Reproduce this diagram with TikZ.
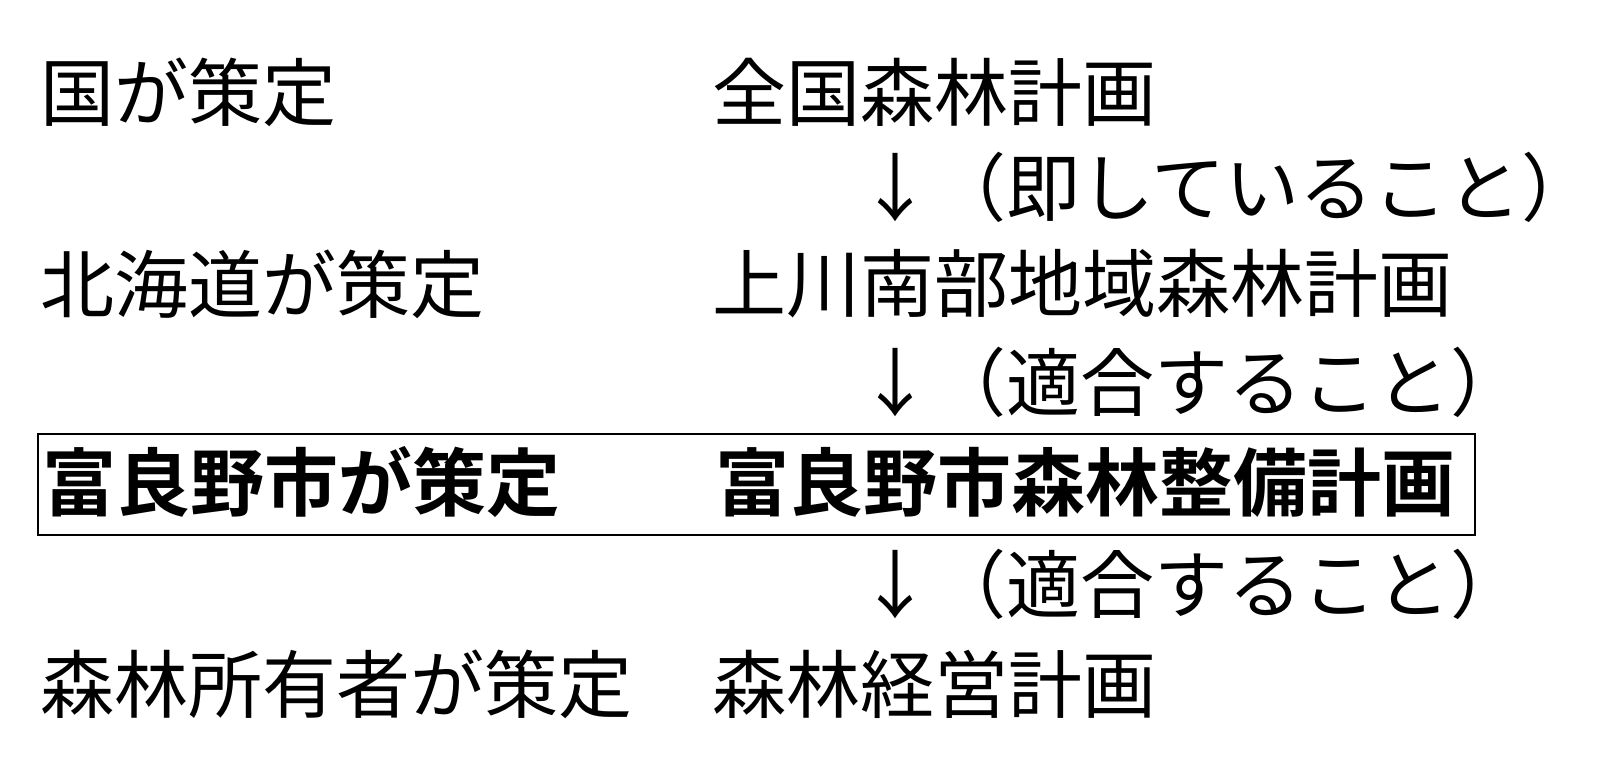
\documentclass[tikz,border=0pt]{standalone}
\usepackage{fontspec}
\newfontfamily\cjk{Noto Sans CJK JP}
\newfontfamily\cjkb{Noto Sans CJK JP Bold}
\begin{document}
\begin{tikzpicture}[x=1pt,y=-1pt,
  t/.style={anchor=west,inner sep=0pt,font=\cjk\fontsize{74}{74}\selectfont},
  tb/.style={anchor=west,inner sep=0pt,font=\cjkb\fontsize{74}{74}\selectfont}]
\fill[white] (0,0) rectangle (1610,762);
\useasboundingbox (0,0) rectangle (1610,762);
\node[t] (l1) at (40,92) {国が策定};
\node[t] (r1) at (712,92) {全国森林計画};
\node[t] (a1) at (858,187) {↓（即していること）};
\node[t] (l2) at (40,284) {北海道が策定};
\node[t] (r2) at (712,284) {上川南部地域森林計画};
\node[t] (a2) at (858,382) {↓（適合すること）};
\node[tb] (l3) at (42,482) {富良野市が策定};
\node[tb] (r3) at (715,482) {富良野市森林整備計画};
\draw[line width=2.5pt] (38,434) rectangle (1475,535);
\node[t] (a3) at (858,584) {↓（適合すること）};
\node[t] (l4) at (40,684) {森林所有者が策定};
\node[t] (r4) at (712,684) {森林経営計画};
\end{tikzpicture}
\end{document}
